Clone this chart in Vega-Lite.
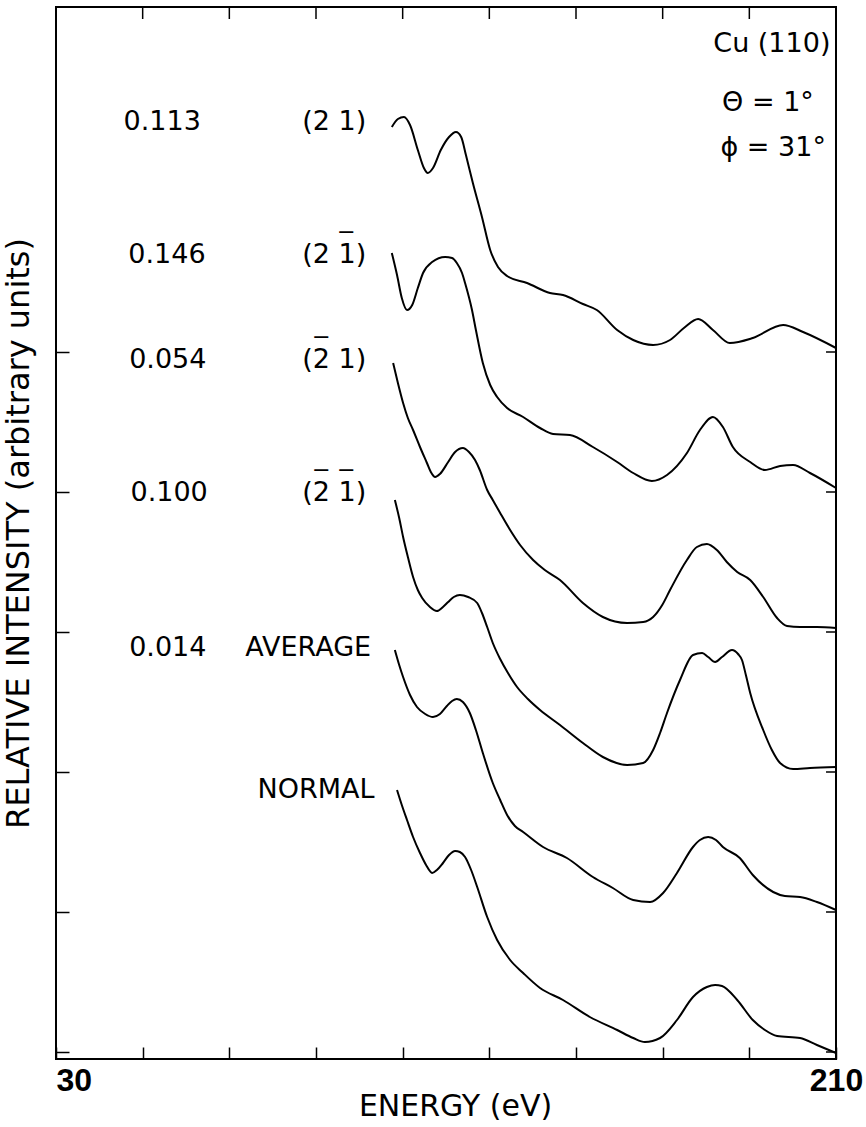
{
  "$schema": "https://vega.github.io/schema/vega-lite/v6.json",
  "width": 780,
  "height": 1052,
  "autosize": "none",
  "padding": {"left": 56, "top": 7, "right": 30, "bottom": 68},
  "background": "white",
  "config": {
    "view": {"stroke": "black", "strokeWidth": 2},
    "axis": {"grid": false, "domain": false, "tickColor": "black", "tickWidth": 1.5, "labelColor": "black", "titleColor": "black"}
  },
  "datasets": {
    "curves": [
      {"s":"c1","E":107.5,"I":9.32},{"s":"c1","E":108.9,"I":9.40},{"s":"c1","E":110.3,"I":9.42},{"s":"c1","E":111.7,"I":9.34},{"s":"c1","E":113.5,"I":9.09},{"s":"c1","E":114.9,"I":8.91},{"s":"c1","E":115.8,"I":8.86},{"s":"c1","E":117.0,"I":8.91},{"s":"c1","E":118.8,"I":9.09},{"s":"c1","E":120.7,"I":9.22},{"s":"c1","E":122.3,"I":9.27},{"s":"c1","E":123.5,"I":9.22},{"s":"c1","E":124.6,"I":9.04},{"s":"c1","E":126.2,"I":8.76},{"s":"c1","E":128.3,"I":8.42},{"s":"c1","E":130.2,"I":8.09},{"s":"c1","E":132.0,"I":7.92},{"s":"c1","E":134.1,"I":7.83},{"s":"c1","E":138.7,"I":7.76},{"s":"c1","E":144.0,"I":7.66},{"s":"c1","E":147.0,"I":7.64},{"s":"c1","E":151.6,"I":7.55},{"s":"c1","E":154.8,"I":7.49},{"s":"c1","E":159.5,"I":7.29},{"s":"c1","E":163.2,"I":7.19},{"s":"c1","E":167.8,"I":7.14},{"s":"c1","E":171.7,"I":7.19},{"s":"c1","E":174.9,"I":7.31},{"s":"c1","E":178.2,"I":7.40},{"s":"c1","E":181.6,"I":7.29},{"s":"c1","E":185.5,"I":7.16},{"s":"c1","E":190.8,"I":7.21},{"s":"c1","E":197.8,"I":7.34},{"s":"c1","E":202.4,"I":7.27},{"s":"c1","E":210,"I":7.11},
      {"s":"c2","E":107.5,"I":8.06},{"s":"c2","E":108.7,"I":7.84},{"s":"c2","E":109.8,"I":7.61},{"s":"c2","E":111.0,"I":7.49},{"s":"c2","E":112.2,"I":7.54},{"s":"c2","E":113.5,"I":7.71},{"s":"c2","E":114.7,"I":7.86},{"s":"c2","E":116.8,"I":7.97},{"s":"c2","E":119.8,"I":8.02},{"s":"c2","E":121.4,"I":8.01},{"s":"c2","E":122.5,"I":7.96},{"s":"c2","E":123.7,"I":7.86},{"s":"c2","E":124.4,"I":7.76},{"s":"c2","E":126.0,"I":7.49},{"s":"c2","E":126.9,"I":7.29},{"s":"c2","E":128.5,"I":6.96},{"s":"c2","E":130.2,"I":6.74},{"s":"c2","E":131.8,"I":6.62},{"s":"c2","E":134.1,"I":6.51},{"s":"c2","E":137.8,"I":6.42},{"s":"c2","E":141.7,"I":6.31},{"s":"c2","E":144.7,"I":6.25},{"s":"c2","E":148.6,"I":6.24},{"s":"c2","E":153.9,"I":6.12},{"s":"c2","E":159.5,"I":5.97},{"s":"c2","E":163.2,"I":5.86},{"s":"c2","E":167.5,"I":5.78},{"s":"c2","E":171.0,"I":5.84},{"s":"c2","E":175.6,"I":6.06},{"s":"c2","E":178.6,"I":6.29},{"s":"c2","E":181.6,"I":6.42},{"s":"c2","E":183.9,"I":6.32},{"s":"c2","E":186.2,"I":6.12},{"s":"c2","E":190.2,"I":5.97},{"s":"c2","E":193.6,"I":5.89},{"s":"c2","E":197.1,"I":5.93},{"s":"c2","E":200.1,"I":5.94},{"s":"c2","E":204.0,"I":5.86},{"s":"c2","E":210,"I":5.71},
      {"s":"c3","E":107.8,"I":6.96},{"s":"c3","E":108.9,"I":6.76},{"s":"c3","E":110.1,"I":6.56},{"s":"c3","E":111.2,"I":6.41},{"s":"c3","E":112.4,"I":6.29},{"s":"c3","E":114.0,"I":6.12},{"s":"c3","E":115.6,"I":5.96},{"s":"c3","E":116.5,"I":5.87},{"s":"c3","E":117.5,"I":5.82},{"s":"c3","E":118.6,"I":5.85},{"s":"c3","E":120.5,"I":5.97},{"s":"c3","E":122.1,"I":6.07},{"s":"c3","E":123.9,"I":6.11},{"s":"c3","E":125.3,"I":6.07},{"s":"c3","E":126.7,"I":5.99},{"s":"c3","E":127.8,"I":5.89},{"s":"c3","E":129.5,"I":5.69},{"s":"c3","E":130.8,"I":5.59},{"s":"c3","E":132.5,"I":5.46},{"s":"c3","E":134.8,"I":5.29},{"s":"c3","E":137.1,"I":5.14},{"s":"c3","E":140.1,"I":4.99},{"s":"c3","E":142.8,"I":4.89},{"s":"c3","E":146.3,"I":4.79},{"s":"c3","E":151.6,"I":4.56},{"s":"c3","E":156.2,"I":4.42},{"s":"c3","E":161.8,"I":4.36},{"s":"c3","E":165.5,"I":4.37},{"s":"c3","E":167.8,"I":4.42},{"s":"c3","E":169.9,"I":4.54},{"s":"c3","E":171.7,"I":4.69},{"s":"c3","E":175.6,"I":4.99},{"s":"c3","E":177.9,"I":5.12},{"s":"c3","E":180.2,"I":5.15},{"s":"c3","E":182.5,"I":5.09},{"s":"c3","E":184.8,"I":4.97},{"s":"c3","E":187.2,"I":4.87},{"s":"c3","E":190.2,"I":4.79},{"s":"c3","E":193.2,"I":4.62},{"s":"c3","E":196.4,"I":4.41},{"s":"c3","E":198.7,"I":4.33},{"s":"c3","E":201.7,"I":4.32},{"s":"c3","E":205.6,"I":4.32},{"s":"c3","E":210,"I":4.31},
      {"s":"c4","E":108.2,"I":5.59},{"s":"c4","E":109.2,"I":5.41},{"s":"c4","E":110.1,"I":5.22},{"s":"c4","E":111.2,"I":5.02},{"s":"c4","E":112.4,"I":4.82},{"s":"c4","E":113.5,"I":4.69},{"s":"c4","E":114.5,"I":4.61},{"s":"c4","E":116.3,"I":4.52},{"s":"c4","E":117.9,"I":4.48},{"s":"c4","E":119.3,"I":4.52},{"s":"c4","E":120.5,"I":4.57},{"s":"c4","E":121.8,"I":4.62},{"s":"c4","E":123.2,"I":4.64},{"s":"c4","E":125.1,"I":4.62},{"s":"c4","E":127.2,"I":4.56},{"s":"c4","E":128.3,"I":4.46},{"s":"c4","E":129.5,"I":4.32},{"s":"c4","E":130.8,"I":4.16},{"s":"c4","E":132.5,"I":4.00},{"s":"c4","E":134.3,"I":3.86},{"s":"c4","E":136.4,"I":3.72},{"s":"c4","E":138.9,"I":3.60},{"s":"c4","E":141.7,"I":3.49},{"s":"c4","E":146.3,"I":3.34},{"s":"c4","E":151.6,"I":3.16},{"s":"c4","E":156.2,"I":3.02},{"s":"c4","E":161.8,"I":2.94},{"s":"c4","E":165.5,"I":2.96},{"s":"c4","E":167.8,"I":3.09},{"s":"c4","E":169.4,"I":3.26},{"s":"c4","E":171.0,"I":3.46},{"s":"c4","E":174.0,"I":3.79},{"s":"c4","E":177.0,"I":4.04},{"s":"c4","E":179.1,"I":4.06},{"s":"c4","E":180.5,"I":4.02},{"s":"c4","E":182.1,"I":3.97},{"s":"c4","E":183.7,"I":4.02},{"s":"c4","E":186.0,"I":4.09},{"s":"c4","E":187.4,"I":4.05},{"s":"c4","E":188.3,"I":3.99},{"s":"c4","E":189.2,"I":3.84},{"s":"c4","E":190.2,"I":3.66},{"s":"c4","E":193.2,"I":3.29},{"s":"c4","E":195.2,"I":3.09},{"s":"c4","E":197.1,"I":2.96},{"s":"c4","E":200.1,"I":2.90},{"s":"c4","E":204.0,"I":2.91},{"s":"c4","E":210,"I":2.92},
      {"s":"c5","E":108.2,"I":4.09},{"s":"c5","E":109.2,"I":3.94},{"s":"c5","E":110.1,"I":3.82},{"s":"c5","E":111.7,"I":3.64},{"s":"c5","E":113.3,"I":3.52},{"s":"c5","E":115.2,"I":3.45},{"s":"c5","E":117.0,"I":3.42},{"s":"c5","E":118.6,"I":3.45},{"s":"c5","E":120.2,"I":3.53},{"s":"c5","E":121.4,"I":3.58},{"s":"c5","E":122.5,"I":3.60},{"s":"c5","E":123.9,"I":3.57},{"s":"c5","E":125.5,"I":3.46},{"s":"c5","E":126.9,"I":3.29},{"s":"c5","E":128.5,"I":3.06},{"s":"c5","E":130.8,"I":2.76},{"s":"c5","E":132.5,"I":2.59},{"s":"c5","E":134.1,"I":2.44},{"s":"c5","E":135.9,"I":2.33},{"s":"c5","E":137.8,"I":2.27},{"s":"c5","E":142.4,"I":2.12},{"s":"c5","E":147.9,"I":2.01},{"s":"c5","E":153.9,"I":1.82},{"s":"c5","E":158.5,"I":1.71},{"s":"c5","E":163.2,"I":1.59},{"s":"c5","E":167.1,"I":1.57},{"s":"c5","E":170.1,"I":1.66},{"s":"c5","E":173.3,"I":1.86},{"s":"c5","E":177.0,"I":2.12},{"s":"c5","E":178.6,"I":2.19},{"s":"c5","E":180.5,"I":2.22},{"s":"c5","E":182.3,"I":2.19},{"s":"c5","E":183.9,"I":2.12},{"s":"c5","E":187.8,"I":2.01},{"s":"c5","E":190.8,"I":1.84},{"s":"c5","E":195.5,"I":1.67},{"s":"c5","E":198.2,"I":1.63},{"s":"c5","E":201.7,"I":1.62},{"s":"c5","E":205.6,"I":1.57},{"s":"c5","E":210,"I":1.49},
      {"s":"c6","E":108.7,"I":2.69},{"s":"c6","E":109.8,"I":2.54},{"s":"c6","E":111.0,"I":2.39},{"s":"c6","E":112.4,"I":2.22},{"s":"c6","E":114.0,"I":2.06},{"s":"c6","E":115.4,"I":1.94},{"s":"c6","E":116.8,"I":1.86},{"s":"c6","E":117.9,"I":1.89},{"s":"c6","E":119.3,"I":1.96},{"s":"c6","E":120.7,"I":2.04},{"s":"c6","E":122.1,"I":2.08},{"s":"c6","E":123.2,"I":2.07},{"s":"c6","E":124.4,"I":2.02},{"s":"c6","E":125.8,"I":1.89},{"s":"c6","E":127.2,"I":1.72},{"s":"c6","E":129.5,"I":1.42},{"s":"c6","E":131.8,"I":1.19},{"s":"c6","E":134.8,"I":0.99},{"s":"c6","E":137.8,"I":0.86},{"s":"c6","E":141.7,"I":0.71},{"s":"c6","E":147.0,"I":0.59},{"s":"c6","E":153.2,"I":0.42},{"s":"c6","E":159.5,"I":0.29},{"s":"c6","E":163.2,"I":0.21},{"s":"c6","E":165.9,"I":0.17},{"s":"c6","E":169.4,"I":0.21},{"s":"c6","E":173.3,"I":0.39},{"s":"c6","E":177.0,"I":0.62},{"s":"c6","E":180.2,"I":0.72},{"s":"c6","E":182.1,"I":0.74},{"s":"c6","E":183.7,"I":0.73},{"s":"c6","E":187.2,"I":0.59},{"s":"c6","E":190.8,"I":0.39},{"s":"c6","E":193.6,"I":0.29},{"s":"c6","E":196.4,"I":0.23},{"s":"c6","E":201.7,"I":0.21},{"s":"c6","E":205.6,"I":0.14},{"s":"c6","E":210,"I":0.06}
    ],
    "labels": [
      {"t":"0.113","E":54.5,"I":9.37},
      {"t":"(2 1)","E":94.2,"I":9.37},
      {"t":"0.146","E":55.6,"I":8.04},
      {"t":"(2 1)","E":94.2,"I":8.04},
      {"t":"‾","E":97.0,"I":8.16},
      {"t":"0.054","E":55.8,"I":6.99},
      {"t":"(2 1)","E":94.2,"I":6.99},
      {"t":"‾","E":91.2,"I":7.11},
      {"t":"0.100","E":56.1,"I":5.66},
      {"t":"(2 1)","E":94.2,"I":5.66},
      {"t":"‾","E":91.2,"I":5.78},
      {"t":"‾","E":97.0,"I":5.78},
      {"t":"0.014","E":55.8,"I":4.11},
      {"t":"AVERAGE","E":88.2,"I":4.11},
      {"t":"NORMAL","E":90.0,"I":2.69},
      {"t":"Cu (110)","E":195.2,"I":10.15},
      {"t":"Θ = 1°","E":194.3,"I":9.56},
      {"t":"ϕ = 31°","E":195.5,"I":9.11}
    ],
    "topTicks": [{"E":50,"I":10.46},{"E":70,"I":10.46},{"E":90,"I":10.46},{"E":110,"I":10.46},{"E":130,"I":10.46},{"E":150,"I":10.46},{"E":170,"I":10.46},{"E":190,"I":10.46}],
    "rightTicks": [{"E":208.85,"I":0.07},{"E":208.85,"I":1.47},{"E":208.85,"I":2.87},{"E":208.85,"I":4.27},{"E":208.85,"I":5.67},{"E":208.85,"I":7.07}]
  },
  "layer": [
    {
      "data": {"name": "curves"},
      "mark": {"type": "line", "interpolate": "monotone", "color": "black", "strokeWidth": 2},
      "encoding": {
        "x": {
          "field": "E", "type": "quantitative",
          "scale": {"domain": [30, 210], "nice": false, "zero": false},
          "axis": {
            "orient": "bottom",
            "values": [30, 50, 70, 90, 110, 130, 150, 170, 190, 210],
            "tickSize": -12,
            "labelExpr": "datum.value == 30 || datum.value == 210 ? datum.label : ''",
            "labelFlush": false,
            "labelOverlap": false,
            "labelFont": "Liberation Sans Narrow, Liberation Sans",
            "labelFontSize": 32,
            "labelFontWeight": "bold",
            "labelAlign": {"condition": {"test": "datum.value == 30", "value": "left"}, "value": "center"},
            "labelPadding": 18,
            "title": "ENERGY (eV)",
            "titleFont": "DejaVu Sans",
            "titleFontSize": 30,
            "titleFontWeight": "normal",
            "titlePadding": -5,
            "titleX": 399
          }
        },
        "y": {
          "field": "I", "type": "quantitative",
          "scale": {"domain": [0, 10.52], "nice": false, "zero": false},
          "axis": {
            "orient": "left",
            "values": [0.07, 1.47, 2.87, 4.27, 5.67, 7.07],
            "tickSize": -13,
            "labels": false,
            "title": "RELATIVE INTENSITY (arbitrary units)",
            "titleFont": "DejaVu Sans",
            "titleFontSize": 32,
            "titleFontWeight": "normal",
            "titlePadding": 20
          }
        },
        "detail": {"field": "s"}
      }
    },
    {
      "data": {"name": "topTicks"},
      "mark": {"type": "tick", "orient": "vertical", "size": 12, "thickness": 1.5, "color": "black", "opacity": 1},
      "encoding": {
        "x": {"field": "E", "type": "quantitative", "axis": null},
        "y": {"field": "I", "type": "quantitative", "axis": null}
      }
    },
    {
      "data": {"name": "rightTicks"},
      "mark": {"type": "tick", "orient": "horizontal", "size": 10, "thickness": 1.5, "color": "black", "opacity": 1},
      "encoding": {
        "x": {"field": "E", "type": "quantitative", "axis": null},
        "y": {"field": "I", "type": "quantitative", "axis": null}
      }
    },
    {
      "data": {"name": "labels"},
      "mark": {"type": "text", "font": "DejaVu Sans", "fontSize": 27, "align": "center", "baseline": "middle", "color": "black"},
      "encoding": {
        "x": {"field": "E", "type": "quantitative", "axis": null},
        "y": {"field": "I", "type": "quantitative", "axis": null},
        "text": {"field": "t"}
      }
    }
  ],
  "resolve": {"axis": {"x": "independent", "y": "independent"}}
}
